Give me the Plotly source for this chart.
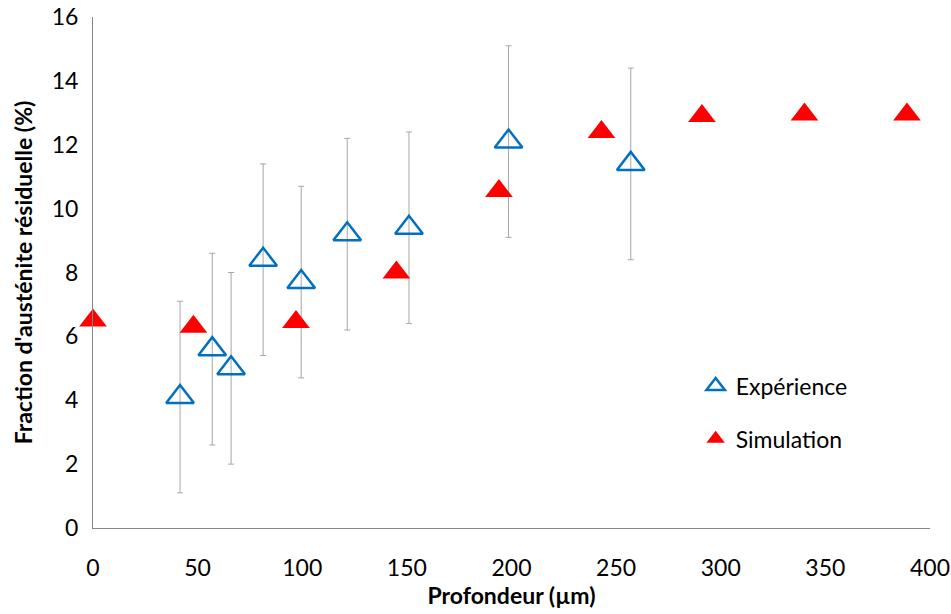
import plotly.graph_objects as go

# Experimental data
exp_x = [41.6, 57, 66, 81.3, 99.5, 121.5, 151, 198.6, 257]
exp_y = [4.1, 5.6, 5.0, 8.4, 7.7, 9.2, 9.4, 12.1, 11.4]
exp_err = [3, 3, 3, 3, 3, 3, 3, 3, 3]

# Simulation data
sim_x = [0, 48, 97, 145, 194, 243, 291, 340, 389]
sim_y = [6.5, 6.3, 6.45, 8.0, 10.55, 12.4, 12.9, 12.95, 12.95]

x_ticks = [0, 50, 100, 150, 200, 250, 300, 350, 400]
y_ticks = [0, 2, 4, 6, 8, 10, 12, 14, 16]

FONT = "Lato, Carlito, Calibri, 'Open Sans', sans-serif"

fig = go.Figure()
fig.add_trace(go.Scatter(
    x=exp_x, y=exp_y, mode="markers", name="Expérience",
    legendgroup="a", cliponaxis=False,
    marker=dict(symbol="triangle-up-open", size=24, color="#0070C0",
                line=dict(width=2.5, color="#0070C0")),
    error_y=dict(type="data", array=exp_err, visible=True,
                 color="#A6A6A6", thickness=1, width=3),
))
fig.add_trace(go.Scatter(
    x=sim_x, y=sim_y, mode="markers", name="Simulation",
    legendgroup="b", cliponaxis=False,
    marker=dict(symbol="triangle-up", size=24, color="#FF0000"),
))

fig.update_layout(
    width=951, height=614,
    margin=dict(l=93, r=21, t=17, b=86),
    paper_bgcolor="white", plot_bgcolor="white",
    font=dict(family=FONT, size=23, color="#000000"),
    showlegend=True,
    legend=dict(x=0.72, y=0.32, xanchor="left", yanchor="top",
                font=dict(size=23), tracegroupgap=20,
                bgcolor="rgba(0,0,0,0)", itemsizing="trace"),
)
fig.update_xaxes(
    range=[0, 400], tickvals=x_ticks, showgrid=False, zeroline=False,
    showline=True, linecolor="#868686", linewidth=1, automargin=False,
    ticks="outside", ticklen=19, tickcolor="rgba(0,0,0,0)",
    ticklabeloverflow="allow",
    tickfont=dict(size=23, color="#000000"),
    title=dict(text="<b>Profondeur (µm)</b>", font=dict(size=23), standoff=6),
)
fig.update_yaxes(
    range=[0, 16], tickvals=y_ticks, showgrid=False, zeroline=False,
    showline=True, linecolor="#868686", linewidth=1, automargin=False,
    ticks="outside", ticklen=9, tickcolor="rgba(0,0,0,0)",
    ticklabeloverflow="allow",
    tickfont=dict(size=23, color="#000000"),
    title=dict(text="<b>Fraction d'austénite résiduelle (%)</b>", font=dict(size=23), standoff=12),
)

fig.write_html(
    "out.html",
    config={"displayModeBar": False},
    post_script="document.body.style.margin='0';document.documentElement.style.overflow='hidden';document.body.style.overflow='hidden';",
)
